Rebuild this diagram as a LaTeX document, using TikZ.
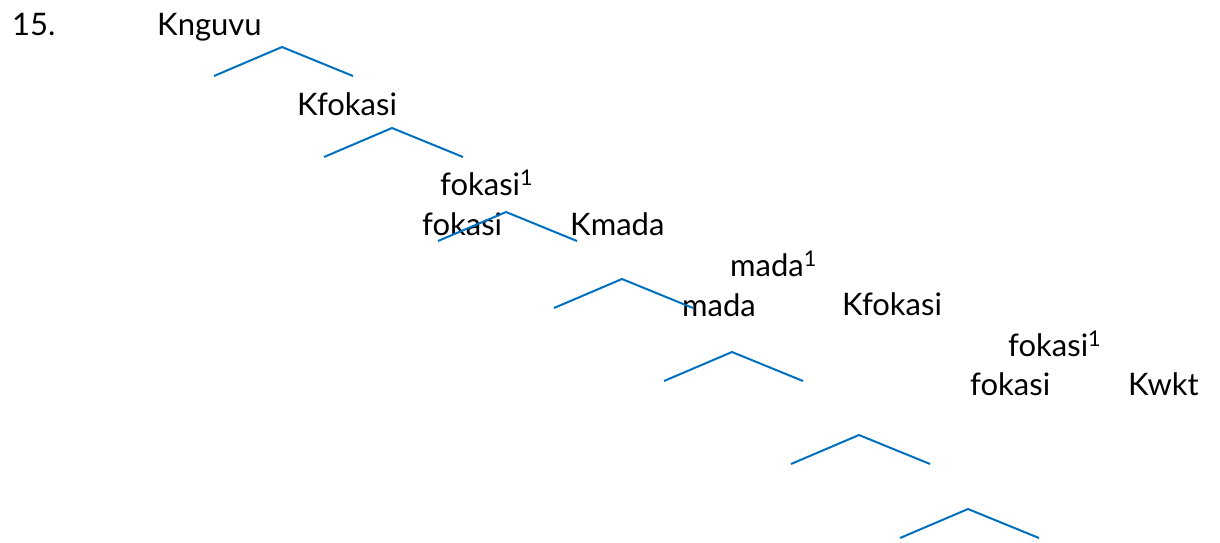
\documentclass[tikz,border=0pt]{standalone}
\usepackage{fontspec}
\setmainfont{Lato}
\usepackage{tikz}
\definecolor{treeblue}{RGB}{0,112,192}

\begin{document}
\begin{tikzpicture}[x=1pt,y=-1pt,
  every node/.style={anchor=base west,inner sep=0pt,font={\fontsize{31}{36}\selectfont}},
  branch/.style={treeblue,line width=2pt}]
\useasboundingbox (0,0) rectangle (1220,542);
% labels
\node (num) at (12,35) {15.};
\node (knguvu) at (157,35) {Knguvu};
\node (kfokasiA) at (297,115) {Kfokasi};
\node (fokasibarA) at (440,195) {fokasi\textsuperscript{1}};
\node (fokasiA) at (422,235) {fokasi};
\node (kmada) at (570,235) {Kmada};
\node (madabar) at (730,276) {mada\textsuperscript{1}};
\node (mada) at (682,316) {mada};
\node (kfokasiB) at (842,315) {Kfokasi};
\node (fokasibarB) at (1008,356) {fokasi\textsuperscript{1}};
\node (fokasiB) at (970,395) {fokasi};
\node (kwkt) at (1128,395) {Kwkt};
% branches
\coordinate (b1) at (282,47);
\coordinate (b2) at (392,128);
\coordinate (b3) at (506,212);
\coordinate (b4) at (622,279);
\coordinate (b5) at (732,352);
\coordinate (b6) at (859,435);
\coordinate (b7) at (968,509);
\draw[branch] (b1) ++(-68,29) -- (b1) -- ++(71,29);
\draw[branch] (b2) ++(-68,29) -- (b2) -- ++(71,29);
\draw[branch] (b3) ++(-68,29) -- (b3) -- ++(71,29);
\draw[branch] (b4) ++(-68,29) -- (b4) -- ++(71,29);
\draw[branch] (b5) ++(-68,29) -- (b5) -- ++(71,29);
\draw[branch] (b6) ++(-68,29) -- (b6) -- ++(71,29);
\draw[branch] (b7) ++(-68,29) -- (b7) -- ++(71,29);
\end{tikzpicture}
\end{document}
